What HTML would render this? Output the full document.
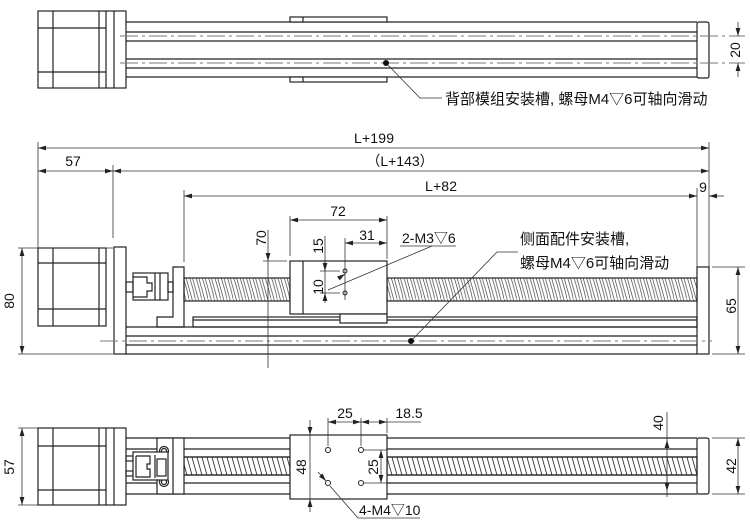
<!DOCTYPE html>
<html><head><meta charset="utf-8"><style>
html,body{margin:0;padding:0;background:#fff;}
svg{display:block;}
text{font-family:"Liberation Sans","Noto Sans CJK SC",sans-serif;fill:#111;}
.d{font-size:14px;}
.c{font-size:15px;}
</style></head><body>
<svg width="750" height="530" viewBox="0 0 750 530" xmlns="http://www.w3.org/2000/svg">
<defs>
<marker id="a" viewBox="0 0 10 6" refX="10" refY="3" markerWidth="8" markerHeight="5" orient="auto-start-reverse" markerUnits="userSpaceOnUse"><path d="M0,0L10,3L0,6z" fill="#222"/></marker>
<pattern id="th" width="6.3" height="23" patternUnits="userSpaceOnUse">
<path d="M0,0 C2,6 5,16 6.3,23" stroke="#444" stroke-width="0.7" fill="none"/>
<path d="M3,0 C4.5,6 7.5,16 9.3,23" stroke="#444" stroke-width="0.7" fill="none"/>
<path d="M-3.3,0 C-1.8,6 1.2,16 3,23" stroke="#444" stroke-width="0.7" fill="none"/>
</pattern>
<pattern id="th2" width="5" height="18" patternUnits="userSpaceOnUse">
<path d="M0,0 L5,18" stroke="#333" stroke-width="0.9"/>
<path d="M-5,0 L0,18" stroke="#333" stroke-width="0.9"/>
<path d="M5,0 L10,18" stroke="#333" stroke-width="0.9"/>
</pattern>
</defs>
<g fill="none" stroke="#222" stroke-width="1.2">
<rect x="38" y="11" width="88" height="77"/>
<line x1="53" y1="11" x2="53" y2="88"/>
<line x1="99" y1="11" x2="99" y2="88"/>
<line x1="106" y1="11" x2="106" y2="88"/>
<line x1="114" y1="11" x2="114" y2="88"/>
<line x1="38" y1="28" x2="106" y2="28"/>
<line x1="38" y1="72" x2="106" y2="72"/>
<line x1="126" y1="22" x2="697" y2="22"/>
<line x1="126" y1="32" x2="697" y2="32"/>
<line x1="126" y1="41" x2="697" y2="41"/>
<line x1="126" y1="59" x2="697" y2="59"/>
<line x1="126" y1="68" x2="697" y2="68"/>
<line x1="126" y1="77" x2="697" y2="77"/>
<rect x="290" y="17" width="97" height="5" fill="#fff"/>
<line x1="303" y1="17" x2="303" y2="22"/>
<rect x="290" y="77" width="97" height="5" fill="#fff"/>
<line x1="303" y1="77" x2="303" y2="82"/>
<rect x="697" y="22" width="12" height="56" rx="2"/>
</g>
<g stroke="#777" stroke-width="1" stroke-dasharray="18,4,3,4">
<line x1="120" y1="36" x2="745" y2="36"/>
<line x1="120" y1="63" x2="745" y2="63"/>
</g>
<g stroke="#333" stroke-width="0.8" fill="none">
<line x1="738" y1="22" x2="738" y2="36" marker-end="url(#a)"/>
<line x1="738" y1="77" x2="738" y2="63" marker-end="url(#a)"/>
<polyline points="386,63 420,98 442,98"/>
</g>
<circle cx="386" cy="63" r="3" fill="#111"/>
<text class="d" transform="translate(735,50) rotate(-90)" text-anchor="middle" dy="5">20</text>
<text class="c" x="445" y="104">背部模组安装槽, 螺母M4▽6可轴向滑动</text>

<g stroke="#333" stroke-width="0.8" fill="none">
<line x1="38" y1="142" x2="38" y2="248"/>
<line x1="709" y1="142" x2="709" y2="267"/>
<line x1="113" y1="165" x2="113" y2="238"/>
<line x1="697" y1="188" x2="697" y2="267"/>
<line x1="184" y1="190" x2="184" y2="262"/>
<line x1="38" y1="148" x2="709" y2="148" marker-start="url(#a)" marker-end="url(#a)"/>
<line x1="38" y1="171" x2="113" y2="171" marker-start="url(#a)" marker-end="url(#a)"/>
<line x1="113" y1="171" x2="709" y2="171" marker-start="url(#a)" marker-end="url(#a)"/>
<line x1="184" y1="196" x2="697" y2="196" marker-start="url(#a)" marker-end="url(#a)"/>
<line x1="724" y1="196" x2="709" y2="196" marker-end="url(#a)"/>
</g>
<text class="d" x="374" y="143" text-anchor="middle" textLength="40">L+199</text>
<text class="d" x="73" y="166" text-anchor="middle">57</text>
<text class="d" x="400" y="166" text-anchor="middle">（L+143）</text>
<text class="d" x="441" y="191" text-anchor="middle" textLength="32">L+82</text>
<text class="d" x="703" y="192" text-anchor="middle">9</text>

<g fill="none" stroke="#222" stroke-width="1.2">
<rect x="38" y="248" width="68" height="78"/>
<line x1="53" y1="248" x2="53" y2="326"/>
<line x1="99" y1="248" x2="99" y2="326"/>
<line x1="38" y1="263" x2="106" y2="263"/>
<line x1="38" y1="309" x2="106" y2="309"/>
<rect x="114" y="247" width="12" height="107"/>
<line x1="126" y1="327" x2="697" y2="327"/>
<line x1="126" y1="336" x2="697" y2="336"/>
<line x1="126" y1="345" x2="697" y2="345"/>
<line x1="126" y1="354" x2="697" y2="354"/>
<rect x="193" y="317" width="504" height="10"/>
<line x1="193" y1="320" x2="697" y2="320"/>
<rect x="697" y="267" width="12" height="87"/>
<rect x="126" y="282" width="7" height="10"/>
<rect x="168" y="282" width="5" height="10"/>
<rect x="133" y="273" width="35" height="27"/>
<line x1="155" y1="273" x2="155" y2="300"/>
<line x1="160" y1="273" x2="160" y2="300"/>
<polyline points="133,277 147,277 147,283 152,283 152,291 147,291 147,297 133,297"/>
<polygon points="173,267 184,267 184,327 157,327 157,317 173,317"/>
<rect x="184" y="278" width="106" height="23" fill="url(#th)"/>
<rect x="387" y="278" width="310" height="23" fill="url(#th)"/>
<rect x="290" y="261" width="97" height="53" fill="#fff"/>
<line x1="303" y1="261" x2="303" y2="314"/>
<rect x="340" y="314" width="47" height="9" fill="#fff"/>
</g>
<line x1="100" y1="341" x2="712" y2="341" stroke="#777" stroke-width="1" stroke-dasharray="18,4,3,4"/>
<g stroke="#333" stroke-width="0.8" fill="none">
<line x1="18" y1="248" x2="113" y2="248"/>
<line x1="18" y1="354" x2="113" y2="354"/>
<line x1="22" y1="248" x2="22" y2="354" marker-start="url(#a)" marker-end="url(#a)"/>
<line x1="712" y1="267" x2="745" y2="267"/>
<line x1="712" y1="354" x2="745" y2="354"/>
<line x1="738" y1="267" x2="738" y2="354" marker-start="url(#a)" marker-end="url(#a)"/>
<line x1="268" y1="230" x2="268" y2="261" marker-end="url(#a)"/>
<line x1="268" y1="261" x2="268" y2="368"/>
<line x1="263" y1="261" x2="287" y2="261"/>
<line x1="290" y1="216" x2="290" y2="256"/>
<line x1="387" y1="216" x2="387" y2="259"/>
<line x1="290" y1="220" x2="387" y2="220" marker-start="url(#a)" marker-end="url(#a)"/>
<line x1="345" y1="238" x2="345" y2="300"/>
<line x1="345" y1="243" x2="387" y2="243" marker-start="url(#a)" marker-end="url(#a)"/>
<line x1="325" y1="236" x2="325" y2="300"/>
<line x1="320" y1="271" x2="340" y2="271"/>
<line x1="320" y1="293" x2="340" y2="293"/>
<line x1="325" y1="261" x2="325" y2="271" marker-end="url(#a)"/>
<line x1="325" y1="303" x2="325" y2="293" marker-end="url(#a)"/>
<line x1="328" y1="290" x2="432" y2="246"/>
<line x1="342" y1="276" x2="345" y2="274" marker-end="url(#a)"/>
<line x1="400" y1="246" x2="456" y2="246"/>
<polyline points="411,341 497,252 518,252"/>
</g>
<circle cx="345" cy="271" r="2" fill="none" stroke="#222"/>
<circle cx="345" cy="293" r="2" fill="none" stroke="#222"/>
<circle cx="411" cy="341" r="3" fill="#111"/>
<text class="d" transform="translate(14,301) rotate(-90)" text-anchor="middle">80</text>
<text class="d" transform="translate(736,306) rotate(-90)" text-anchor="middle">65</text>
<text class="d" transform="translate(266,238) rotate(-90)" text-anchor="middle">70</text>
<text class="d" transform="translate(323,246) rotate(-90)" text-anchor="middle">15</text>
<text class="d" transform="translate(323,287) rotate(-90)" text-anchor="middle">10</text>
<text class="d" x="338" y="216" text-anchor="middle">72</text>
<text class="d" x="367" y="240" text-anchor="middle">31</text>
<text class="d" x="402" y="243">2-M3▽6</text>
<text class="c" x="520" y="244">侧面配件安装槽,</text>
<text class="c" x="520" y="268">螺母M4▽6可轴向滑动</text>

<g fill="none" stroke="#222" stroke-width="1.2">
<rect x="38" y="428" width="88" height="77"/>
<line x1="53" y1="428" x2="53" y2="505"/>
<line x1="99" y1="428" x2="99" y2="505"/>
<line x1="106" y1="428" x2="106" y2="505"/>
<line x1="114" y1="428" x2="114" y2="505"/>
<line x1="38" y1="446" x2="106" y2="446"/>
<line x1="38" y1="490" x2="106" y2="490"/>
<line x1="126" y1="438" x2="697" y2="438"/>
<line x1="126" y1="449" x2="697" y2="449"/>
<line x1="184" y1="457" x2="697" y2="457"/>
<line x1="184" y1="475" x2="697" y2="475"/>
<line x1="126" y1="483" x2="697" y2="483"/>
<line x1="126" y1="494" x2="697" y2="494"/>
<rect x="184" y="457" width="106" height="18" fill="url(#th2)"/>
<rect x="387" y="457" width="310" height="18" fill="url(#th2)"/>
<rect x="126" y="456" width="7" height="5"/>
<rect x="126" y="471" width="7" height="5"/>
<rect x="157" y="438" width="27" height="56" fill="#fff"/>
<line x1="173" y1="438" x2="173" y2="494"/>
<circle cx="164" cy="451" r="4.5"/>
<circle cx="164" cy="451" r="2.5"/>
<circle cx="164" cy="482" r="4.5"/>
<circle cx="164" cy="482" r="2.5"/>
<rect x="133" y="452" width="35" height="28" fill="#fff"/>
<line x1="155" y1="455" x2="155" y2="478"/>
<rect x="157" y="459" width="9" height="17"/>
<polyline points="136,456 150,456 150,464 147,464 147,469 150,469 150,477 136,477 136,456"/>
<rect x="697" y="438" width="12" height="56" rx="2"/>
<rect x="290" y="435" width="97" height="64" fill="#fff"/>
</g>
<g fill="none" stroke="#222" stroke-width="1">
<circle cx="328" cy="450" r="2.5"/>
<circle cx="361" cy="450" r="2.5"/>
<circle cx="328" cy="483" r="2.5"/>
<circle cx="361" cy="483" r="2.5"/>
</g>
<g stroke="#333" stroke-width="0.8" fill="none">
<line x1="18" y1="428" x2="38" y2="428"/>
<line x1="18" y1="505" x2="38" y2="505"/>
<line x1="22" y1="428" x2="22" y2="505" marker-start="url(#a)" marker-end="url(#a)"/>
<line x1="712" y1="438" x2="745" y2="438"/>
<line x1="712" y1="494" x2="745" y2="494"/>
<line x1="738" y1="438" x2="738" y2="494" marker-start="url(#a)" marker-end="url(#a)"/>
<line x1="667" y1="412" x2="667" y2="497"/>
<line x1="667" y1="449" x2="667" y2="440" marker-end="url(#a)"/>
<line x1="667" y1="476" x2="667" y2="491" marker-end="url(#a)"/>
<line x1="310" y1="420" x2="310" y2="435" marker-end="url(#a)"/>
<line x1="310" y1="435" x2="310" y2="499"/>
<line x1="310" y1="512" x2="310" y2="499" marker-end="url(#a)"/>
<line x1="328" y1="418" x2="328" y2="446"/>
<line x1="361" y1="418" x2="361" y2="446"/>
<line x1="387" y1="418" x2="387" y2="433"/>
<line x1="328" y1="422" x2="361" y2="422" marker-start="url(#a)" marker-end="url(#a)"/>
<line x1="361" y1="422" x2="387" y2="422" marker-start="url(#a)" marker-end="url(#a)"/>
<line x1="387" y1="422" x2="421" y2="422"/>
<line x1="364" y1="450" x2="387" y2="450"/>
<line x1="364" y1="483" x2="387" y2="483"/>
<line x1="381" y1="450" x2="381" y2="483" marker-start="url(#a)" marker-end="url(#a)"/>
<line x1="318" y1="472" x2="326" y2="481" marker-end="url(#a)"/>
<polyline points="330,486 358,518 420,518"/>
</g>
<text class="d" transform="translate(14,467) rotate(-90)" text-anchor="middle">57</text>
<text class="d" transform="translate(736,466) rotate(-90)" text-anchor="middle">42</text>
<text class="d" transform="translate(663,423) rotate(-90)" text-anchor="middle">40</text>
<text class="d" transform="translate(306,467) rotate(-90)" text-anchor="middle">48</text>
<text class="d" transform="translate(378,467) rotate(-90)" text-anchor="middle">25</text>
<text class="d" x="345" y="418" text-anchor="middle">25</text>
<text class="d" x="409" y="418" text-anchor="middle">18.5</text>
<text class="d" x="359" y="515">4-M4▽10</text>
</svg>
</body></html>
